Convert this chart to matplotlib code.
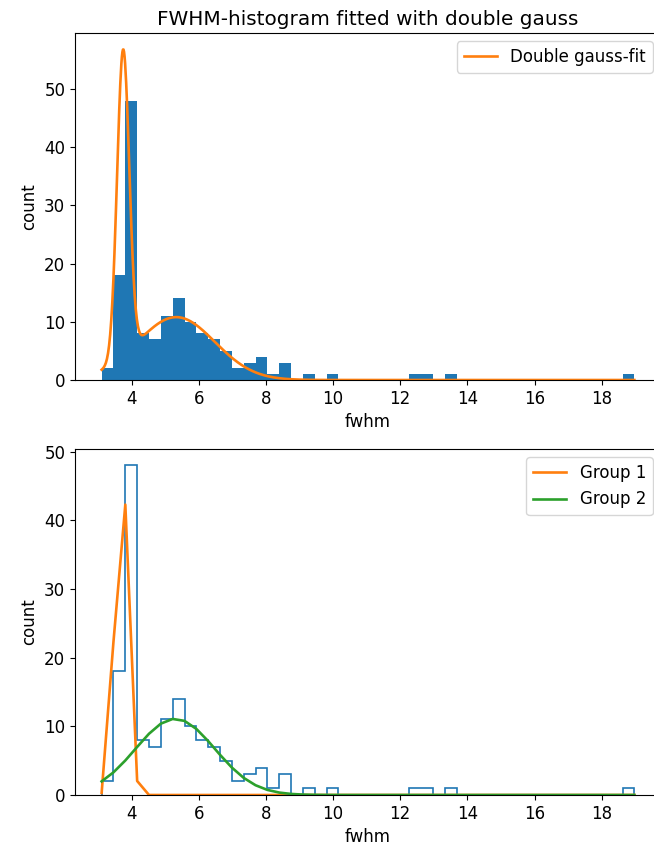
import numpy as np
import matplotlib
matplotlib.use("Agg")
import matplotlib.pyplot as plt

plt.rcParams["font.size"] = 12
plt.rcParams["axes.titlesize"] = 14.4

# Histogram of the FWHM values (45 equal bins between min and max)
FWHM_MIN = 3.11
FWHM_MAX = 18.97
N_BINS = 45
counts = [2, 18, 48, 8, 7, 11, 14, 10, 8, 7, 5, 2, 3, 4, 1, 3, 0, 1, 0, 1,
          0, 0, 0, 0, 0, 0, 1, 1, 0, 1, 0, 0, 0, 0, 0, 0, 0, 0, 0, 0,
          0, 0, 0, 0, 1]

# Double gauss fit (top panel): amplitude, mean, sigma
fit_1 = [52.6, 3.75, 0.18]
fit_2 = [10.8, 5.33, 1.15]

# Separate fits per group (bottom panel)
group_1 = [51.4, 3.70, 0.184]
group_2 = [11.1, 5.30, 1.18]


def gauss(x, a, mu, sigma):
    return a * np.exp(-(x - mu) ** 2 / (2 * sigma ** 2))


edges = np.linspace(FWHM_MIN, FWHM_MAX, N_BINS + 1)
centers = 0.5 * (edges[:-1] + edges[1:])
x_fine = np.linspace(FWHM_MIN, FWHM_MAX, 1000)

fig = plt.figure(figsize=(6.54, 8.51), dpi=100)
W, H = 654, 851
ax1 = fig.add_axes([75 / W, 1 - 380 / H, 586 / W, 347 / H])
ax2 = fig.add_axes([75 / W, 1 - 795 / H, 586 / W, 346 / H])

######## top: filled histogram + double gauss ########
ax1.hist(centers, bins=edges, weights=counts, color="C0")
ax1.plot(x_fine, gauss(x_fine, *fit_1) + gauss(x_fine, *fit_2),
         color="C1", lw=1.9, label="Double gauss-fit")
ax1.set_title("FWHM-histogram fitted with double gauss")
ax1.set_xlabel("fwhm")
ax1.set_ylabel("count")
ax1.set_xticks([4, 6, 8, 10, 12, 14, 16, 18])
ax1.legend(loc="upper right")

######## bottom: step histogram + two groups ########
ax2.hist(centers, bins=edges, weights=counts, histtype="step", color="C0", lw=1.2)
ax2.plot(edges, gauss(edges, *group_1), color="C1", lw=1.9, label="Group 1")
ax2.plot(edges, gauss(edges, *group_2), color="C2", lw=1.9, label="Group 2")
ax2.set_xlabel("fwhm")
ax2.set_ylabel("count")
ax2.set_xticks([4, 6, 8, 10, 12, 14, 16, 18])
ax2.set_ylim(bottom=0)
ax2.legend(loc="upper right")

fig.savefig("out.png", dpi=100)
